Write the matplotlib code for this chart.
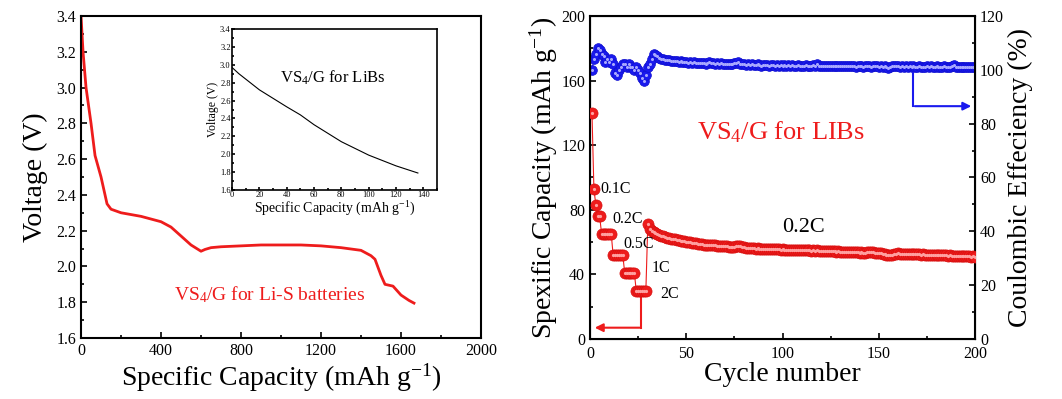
import numpy as np
import matplotlib
matplotlib.use('Agg')
import matplotlib.pyplot as plt
from matplotlib.ticker import MultipleLocator, FormatStrFormatter

plt.rcParams['font.family'] = ['Liberation Serif', 'DejaVu Serif']
plt.rcParams['mathtext.fontset'] = 'custom'
plt.rcParams['mathtext.rm'] = 'Liberation Serif'
plt.rcParams['mathtext.it'] = 'Liberation Serif:italic'

# =========================
# DATA
# =========================
# Li-S discharge curve (capacity mAh/g, voltage V)
lis_cap = [0, 10, 25, 50, 70, 100, 130, 150, 200, 300, 400, 450, 500, 550, 600,
           620, 650, 700, 800, 900, 1000, 1100, 1200, 1300, 1400, 1450, 1470,
           1500, 1520, 1560, 1600, 1640, 1665]
lis_volt = [3.40, 3.20, 3.00, 2.80, 2.62, 2.50, 2.35, 2.32, 2.30, 2.28, 2.25, 2.22,
            2.17, 2.12, 2.085, 2.095, 2.105, 2.11, 2.115, 2.12, 2.12, 2.12, 2.115,
            2.105, 2.09, 2.06, 2.04, 1.95, 1.90, 1.89, 1.84, 1.81, 1.795]

# LIB discharge curve (inset)
lib_cap = [0, 5, 20, 40, 50, 60, 80, 100, 120, 136]
lib_volt = [2.97, 2.90, 2.72, 2.53, 2.44, 2.33, 2.14, 1.99, 1.87, 1.79]

# cycling
cycles = np.arange(1, 201)
capacity = [
    140, 93, 83, 76, 76, 65, 65, 65, 65, 65,
    65, 52, 52, 52, 52, 52, 52, 41, 41, 41,
    41, 41, 41, 30, 30, 30, 30, 30, 30, 71,
    68, 67, 66, 65.5, 65, 64.5, 64, 63.6, 63.2, 62.8,
    62.5, 62.2, 62, 61.7, 61.4, 61.1, 60.9, 60.6, 60.4, 60.2,
    60, 59.8, 59.6, 59.4, 59.2, 59, 58.8, 58.7, 58.5, 58.3,
    58.2, 58.4, 58.2, 58, 57.9, 57.8, 57.8, 57.6, 57.5, 57.4,
    57.3, 57.2, 57.1, 57, 57.2, 57.6, 57.8, 57.3, 56.9, 56.7,
    56.5, 56.4, 56.3, 56.2, 56.1, 56.0, 56.1, 55.9, 55.8, 55.9,
    55.8, 55.7, 55.8, 55.6, 55.7, 55.5, 55.6, 55.5, 55.4, 55.5,
    55.4, 55.3, 55.4, 55.2, 55.3, 55.1, 55.2, 55.0, 55.1, 55.0,
    54.9, 55.0, 54.8, 54.9, 54.7, 54.8, 54.6, 54.8, 54.7, 54.5,
    54.6, 54.4, 54.5, 54.3, 54.4, 54.2, 54.3, 54.1, 54.2, 54.0,
    54.1, 53.9, 54.0, 53.8, 53.9, 53.7, 53.8, 53.6, 53.7, 53.5,
    53.6, 53.4, 53.5, 53.6, 53.8, 53.9, 53.7, 53.5, 53.3, 53.2,
    53.0, 52.8, 52.5, 52.2, 52.0, 51.8, 51.9, 52.4, 52.8, 53.0,
    52.9, 52.8, 52.9, 52.7, 52.8, 52.6, 52.7, 52.5, 52.6, 52.4,
    52.5, 52.3, 52.4, 52.2, 52.3, 52.1, 52.2, 52.0, 52.1, 51.9,
    52.0, 51.8, 51.9, 51.7, 51.8, 51.6, 51.7, 51.5, 51.6, 51.4,
    51.5, 51.3, 51.4, 51.2, 51.3, 51.1, 51.2, 51.0, 51.1, 50.9,
]
efficiency = [
    100, 104, 106, 108, 107.5, 106, 105, 103, 104, 103,
    104, 102, 99, 98, 100, 101, 102, 102, 101, 102,
    101, 101, 100, 101, 100, 99, 97, 96, 98, 101,
    102, 104, 106, 105.5, 105, 104.5, 104, 104, 103.8, 103.6,
    103.5, 103.4, 103.3, 103.2, 103.1, 103.0, 103.2, 102.9, 102.8, 102.8,
    102.7, 102.9, 102.6, 102.8, 102.5, 102.7, 102.4, 102.6, 102.5, 102.3,
    102.6, 102.9, 102.4, 102.6, 102.3, 102.5, 102.2, 102.4, 102.3, 102.1,
    102.3, 102.0, 102.2, 102.1, 102.4, 102.6, 103.0, 102.3, 102.0, 102.2,
    101.9, 102.1, 101.8, 102.0, 101.9, 101.7, 102.0, 101.8, 101.6, 101.9,
    101.7, 101.8, 101.6, 101.9, 101.7, 101.5, 101.8, 101.6, 101.7, 101.5,
    101.8, 101.6, 101.7, 101.5, 101.8, 101.6, 101.4, 101.7, 101.5, 101.6,
    101.4, 101.7, 101.5, 101.6, 101.4, 101.8, 101.5, 102.0, 101.6, 101.4,
    101.6, 101.3, 101.6, 101.4, 101.5, 101.3, 101.6, 101.4, 101.5, 101.3,
    101.5, 101.3, 101.6, 101.4, 101.5, 101.3, 101.5, 101.2, 101.5, 101.3,
    101.4, 101.2, 101.5, 101.3, 101.4, 101.2, 101.5, 101.3, 101.6, 101.2,
    101.4, 101.1, 101.3, 101.0, 100.8, 101.2, 101.4, 101.6, 101.3, 101.5,
    101.2, 101.4, 101.1, 101.3, 101.0, 101.3, 101.1, 101.4, 101.2, 101.0,
    101.3, 101.1, 101.2, 101.0, 101.3, 101.1, 101.6, 101.2, 101.0, 101.3,
    101.1, 101.2, 101.0, 101.3, 101.1, 101.2, 101.0, 101.3, 101.8, 101.2,
    101.1, 101.0, 101.2, 100.9, 101.1, 101.0, 101.2, 100.9, 101.1, 101.0,
]

rate_labels = ['0.1C', '0.2C', '0.5C', '1C', '2C']
rate_label_pos = [(5.5, 93), (11.5, 74), (17.5, 59), (32, 44), (36.5, 28)]

RED = '#ee1c1c'
BLUE = '#1a1aee'


def style_axes(ax, lw=1.5):
    for s in ax.spines.values():
        s.set_linewidth(lw)
    ax.tick_params(which='both', direction='in', top=False, right=False, labelsize=11.5, width=1.2)
    ax.tick_params(which='major', length=4)
    ax.tick_params(which='minor', length=2.5)


fig = plt.figure(figsize=(10.62, 3.99), dpi=100)

# =========================
# LEFT PANEL
# =========================
ax1 = fig.add_axes([0.0763, 0.1529, 0.3766, 0.807])
ax1.plot(lis_cap, lis_volt, color=RED, lw=2)
ax1.set_xlim(0, 2000)
ax1.set_ylim(1.6, 3.4)
ax1.xaxis.set_major_locator(MultipleLocator(400))
ax1.xaxis.set_minor_locator(MultipleLocator(200))
ax1.yaxis.set_major_locator(MultipleLocator(0.2))
ax1.yaxis.set_minor_locator(MultipleLocator(0.1))
ax1.yaxis.set_major_formatter(FormatStrFormatter('%.1f'))
style_axes(ax1)
ax1.set_xlabel('Specific Capacity (mAh g$^{-1}$)', fontsize=20, labelpad=2)
ax1.set_ylabel('Voltage (V)', fontsize=20, labelpad=6)
ax1.text(945, 1.84, 'VS$_4$/G for Li-S batteries', color=RED, fontsize=14,
         ha='center', va='center')

# inset
axi = fig.add_axes([0.2185, 0.5238, 0.193, 0.4035])
axi.plot(lib_cap, lib_volt, color='black', lw=0.8)
axi.set_xlim(0, 150)
axi.set_ylim(1.6, 3.4)
axi.xaxis.set_major_locator(MultipleLocator(20))
axi.xaxis.set_minor_locator(MultipleLocator(10))
axi.yaxis.set_major_locator(MultipleLocator(0.2))
axi.yaxis.set_minor_locator(MultipleLocator(0.1))
axi.yaxis.set_major_formatter(FormatStrFormatter('%.1f'))
style_axes(axi, lw=1.2)
axi.tick_params(labelsize=6, pad=1)
axi.tick_params(which='major', length=2.5)
axi.tick_params(which='minor', length=1.5)
axi.set_xlabel('Specific Capacity (mAh g$^{-1}$)', fontsize=10, labelpad=0)
axi.set_ylabel('Voltage (V)', fontsize=8.5, labelpad=1)
axi.text(74, 2.85, 'VS$_4$/G for LiBs', fontsize=12, ha='center', va='center')

# =========================
# RIGHT PANEL
# =========================
ax2 = fig.add_axes([0.5556, 0.1504, 0.3625, 0.8095])
ax3 = ax2.twinx()

ax3.plot(cycles, efficiency, color=BLUE, lw=0.8, marker='o', ms=7,
         mec='#1010d0', mew=0.5)
ax3.plot(cycles, efficiency, ls='none', marker='o', ms=1.2, color='#a8a8ff')

ax2.plot(cycles, capacity, color=RED, lw=0.8, marker='o', ms=8,
         mec='#d81010', mew=0.5, zorder=3)
ax2.plot(cycles, capacity, ls='none', marker='o', ms=1.3, color='#ffa0a0', zorder=4)

ax2.set_xlim(0, 200)
ax2.set_ylim(0, 200)
ax3.set_ylim(0, 120)
ax2.xaxis.set_major_locator(MultipleLocator(50))
ax2.xaxis.set_minor_locator(MultipleLocator(25))
ax2.yaxis.set_major_locator(MultipleLocator(40))
ax2.yaxis.set_minor_locator(MultipleLocator(20))
ax3.yaxis.set_major_locator(MultipleLocator(20))
ax3.yaxis.set_minor_locator(MultipleLocator(10))
style_axes(ax2)
ax2.tick_params(axis='x', pad=5)
ax3.tick_params(which='both', direction='in', left=False, right=True,
                labelsize=11.5, width=1.2)
ax3.tick_params(which='major', length=4)
ax3.tick_params(which='minor', length=2.5)
ax2.set_zorder(ax3.get_zorder() + 1)
ax2.patch.set_visible(False)

ax2.set_xlabel('Cycle number', fontsize=20, labelpad=0)
ax2.set_ylabel('Spexific Capacity (mAh g$^{-1}$)', fontsize=20, labelpad=1)
ax3.set_ylabel('Coulombic Effeciency (%)', fontsize=20, labelpad=3)

for lab, (cx, cy) in zip(rate_labels, rate_label_pos):
    ax2.text(cx, cy, lab, fontsize=11.5, ha='left', va='center')
ax2.text(100, 69, '0.2C', fontsize=16, ha='left', va='center')
ax2.text(99, 128, 'VS$_4$/G for LIBs', color=RED, fontsize=19, ha='center', va='center')

# arrows
ax2.plot([26.5, 26.5], [27, 7], color=RED, lw=1.5)
ax2.annotate('', xy=(1, 7), xytext=(27.2, 7),
             arrowprops=dict(arrowstyle='-|>', color=RED, lw=1.5, mutation_scale=12))
ax3.plot([168, 168], [99, 86.5], color=BLUE, lw=1.5)
ax3.annotate('', xy=(199.5, 86.5), xytext=(167.3, 86.5),
             arrowprops=dict(arrowstyle='-|>', color=BLUE, lw=1.5, mutation_scale=12))

fig.savefig('out.png', dpi=100)
